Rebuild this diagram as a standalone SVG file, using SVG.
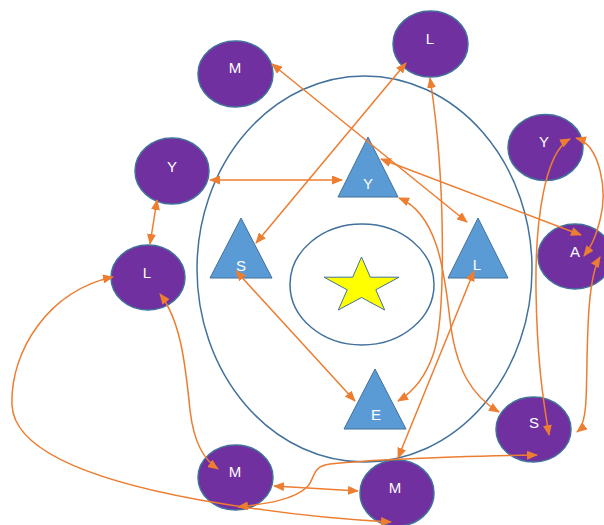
<svg xmlns="http://www.w3.org/2000/svg" width="604" height="525" viewBox="0 0 604 525">
<style>
.ring{fill:none;stroke:#41719C;stroke-width:1.5}
.node{fill:#7030A0;stroke:#41719C;stroke-width:1.5}
.tri{fill:#5B9BD5;stroke:#41719C;stroke-width:1}
.lbl{fill:#FFFFFF;font-family:"Liberation Sans",Arial,sans-serif;font-size:15px;text-anchor:middle}
.c{fill:none;stroke:#ED7D31;stroke-width:1.5;marker-start:url(#ah);marker-end:url(#ah)}
</style>
<defs>
<marker id="ah" markerUnits="userSpaceOnUse" markerWidth="11" markerHeight="9" refX="10" refY="4.5" orient="auto-start-reverse" viewBox="0 0 11 9">
<path d="M0,0 L11,4.5 L0,9 z" fill="#ED7D31"/>
</marker>
</defs>
<rect width="604" height="525" fill="#FFFFFF"/>
<g id="rings">
<ellipse class="ring" cx="364.5" cy="269" rx="167.5" ry="193"/>
<ellipse class="ring" cx="362" cy="284.5" rx="72" ry="60.5"/>
</g>
<g id="star">
<polygon points="361.5,257 370.3,277.2 399,277.2 375.8,289.8 384.7,310 361.5,297.5 338.3,310 347.2,289.8 324,277.2 352.7,277.2" fill="#FFFF00" stroke="#41719C" stroke-width="1"/>
</g>
<g id="tri-Y"><polygon class="tri" points="368,137 338,197 398,197"/><text class="lbl" x="368" y="189">Y</text></g>
<g id="tri-S"><polygon class="tri" points="241,218 210,278 272,278"/><text class="lbl" x="241" y="271">S</text></g>
<g id="tri-L"><polygon class="tri" points="478,218 448,278 508,278"/><text class="lbl" x="477" y="270">L</text></g>
<g id="tri-E"><polygon class="tri" points="375,369 344,429 406,429"/><text class="lbl" x="376" y="420">E</text></g>
<g id="node-M1"><ellipse class="node" cx="235.5" cy="74" rx="37.5" ry="33"/><text class="lbl" x="235" y="73">M</text></g>
<g id="node-Y1"><ellipse class="node" cx="172" cy="171" rx="37" ry="33"/><text class="lbl" x="172" y="172">Y</text></g>
<g id="node-L1"><ellipse class="node" cx="148" cy="277.5" rx="37" ry="32.5"/><text class="lbl" x="147" y="278">L</text></g>
<g id="node-L2"><ellipse class="node" cx="430.5" cy="44" rx="37.5" ry="33"/><text class="lbl" x="430" y="44">L</text></g>
<g id="node-Y2"><ellipse class="node" cx="545.5" cy="147.5" rx="37.5" ry="33"/><text class="lbl" x="544" y="147">Y</text></g>
<g id="node-A"><ellipse class="node" cx="575" cy="256.5" rx="37" ry="32.5"/><text class="lbl" x="575" y="257">A</text></g>
<g id="node-S"><ellipse class="node" cx="533.5" cy="429.5" rx="37.5" ry="32.5"/><text class="lbl" x="534" y="428">S</text></g>
<g id="node-M2"><ellipse class="node" cx="235.5" cy="477.5" rx="37.5" ry="32.5"/><text class="lbl" x="235" y="477">M</text></g>
<g id="node-M3"><ellipse class="node" cx="397" cy="493" rx="37" ry="33"/><text class="lbl" x="395" y="493">M</text></g>
<g id="connectors">
<path class="c" d="M272,64 L467,222"/>
<path class="c" d="M210,180 L342,180"/>
<path class="c" d="M256,243 L406,63"/>
<path class="c" d="M157,200 L150,244"/>
<path class="c" d="M430,78 C446,180 446,320 433,355 C425,378 413,392 398,401"/>
<path class="c" d="M474,271 L398,458"/>
<path class="c" d="M236,271 L355,401"/>
<path class="c" d="M381,159 L581,235"/>
<path class="c" d="M399,198 C440,215 445,280 450,320 C456,370 472,396 499,412"/>
<path class="c" d="M570,139 C545,152 535,220 536,290 C537,360 543,400 549,435"/>
<path class="c" d="M576,138 C600,145 608,190 600,220 C595,240 590,248 584,256"/>
<path class="c" d="M600,257 C585,282 588,360 586,400 C585,420 582,428 577,432"/>
<path class="c" d="M274,486 L358,491"/>
<path class="c" d="M160,294 C180,320 185,360 190,410 C194,445 205,460 218,469"/>
<path class="c" d="M113,277 C50,290 10,350 12,405 C14,450 90,480 200,500 C280,514 350,520 391,522"/>
<path class="c" d="M537,455 C480,456 380,459 330,464 C312,466 315,478 308,486 C295,500 265,504 238,507"/>
</g>
</svg>
